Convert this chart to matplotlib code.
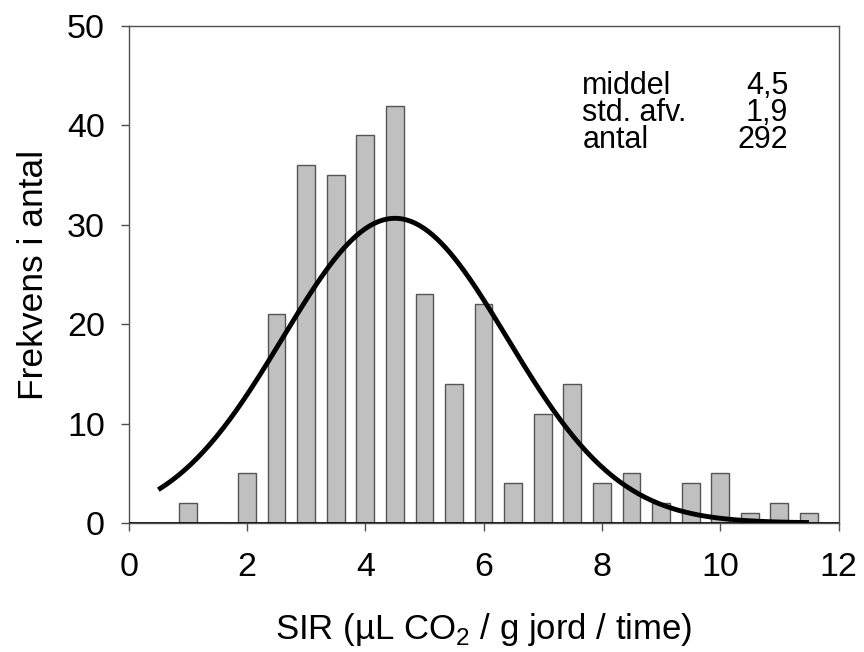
import numpy as np
import matplotlib
matplotlib.use('Agg')
import matplotlib.pyplot as plt

plt.rcParams['font.family'] = ['Liberation Sans', 'DejaVu Sans']
plt.rcParams['mathtext.fontset'] = 'custom'
plt.rcParams['mathtext.rm'] = 'Liberation Sans'

# histogram classes (SIR) and counts
sir = [1.0, 1.5, 2.0, 2.5, 3.0, 3.5, 4.0, 4.5, 5.0, 5.5, 6.0,
       6.5, 7.0, 7.5, 8.0, 8.5, 9.0, 9.5, 10.0, 10.5, 11.0, 11.5]
antal = [2, 0, 5, 21, 36, 35, 39, 42, 23, 14, 22,
         4, 11, 14, 4, 5, 2, 4, 5, 1, 2, 1]

# summary statistics shown in the chart
middel = 4.5
std_afv = 1.9
n_total = 292
bin_w = 0.5

stat_names = ['middel', 'std. afv.', 'antal']
stat_vals = ['4,5', '1,9', '292']

fig = plt.figure(figsize=(8.64, 6.52), dpi=100)
ax = fig.add_axes([0.149, 0.198, 0.8215, 0.762])

ax.bar(sir, antal, width=0.3, color='#c0c0c0', edgecolor='#555555', linewidth=1, zorder=2)
ax.axhline(0, color='black', linewidth=1.2, zorder=3)

# fitted normal curve
xs = np.linspace(0.5, 11.5, 300)
ys = n_total * bin_w / (std_afv * np.sqrt(2 * np.pi)) * np.exp(-0.5 * ((xs - middel) / std_afv) ** 2)
ax.plot(xs, ys, color='black', linewidth=3.5, zorder=4, solid_capstyle='butt')

ax.set_xlim(0, 12)
ax.set_ylim(0, 50)
ax.set_xticks(range(0, 13, 2))
ax.set_yticks(range(0, 51, 10))

for s in ax.spines.values():
    s.set_color('#505050')
    s.set_linewidth(1)
ax.tick_params(direction='out', length=6, width=1, color='#505050', labelsize=24.5)
ax.tick_params(axis='x', pad=15)
ax.tick_params(axis='y', pad=11)

ax.set_xlabel('SIR (µL CO$_\\mathrm{2}$ / g jord / time)', fontsize=25, labelpad=20)
ax.set_ylabel('Frekvens i antal', fontsize=25.5, labelpad=12)

# stats block: one text per column so lines stay tight like the original
# (va='baseline' anchors the last line)
ax.text(7.67, 37.71, '\n'.join(stat_names), fontsize=22, ha='left', va='baseline',
        linespacing=0.88)
ax.text(11.15, 37.71, '\n'.join(stat_vals), fontsize=22, ha='right', va='baseline',
        multialignment='right', linespacing=0.88)

fig.savefig('out.png', dpi=100)
